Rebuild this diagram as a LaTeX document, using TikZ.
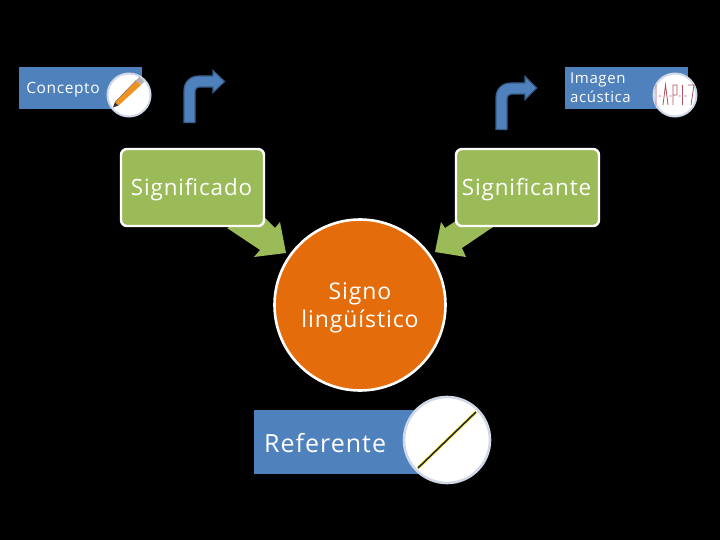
\documentclass[tikz,border=0pt]{standalone}
\usepackage{fontspec}
\setmainfont{Open Sans}[LetterSpace=4]
\definecolor{bluebox}{HTML}{4F81BD}
\definecolor{bluedark}{HTML}{385D8A}
\definecolor{greenbox}{HTML}{9BBB59}
\definecolor{orangec}{HTML}{E46C0A}
\definecolor{ringc}{HTML}{D0D8E8}
\definecolor{wavec}{HTML}{B0505F}
\definecolor{pencilc}{HTML}{EE9322}
\tikzset{
  lab/.style={text=white,inner sep=0pt,align=center},
  labelbox/.style={fill=bluebox,draw=none},
  ringcircle/.style={circle,fill=white,draw=ringc,inner sep=0pt},
  greenrect/.style={fill=greenbox,draw=white,line width=2.4pt,rounded corners=6pt},
  greenarrow/.style={fill=greenbox,draw=none},
  bentarrow/.style={fill=bluebox,draw=bluedark,line width=1.2pt,line join=miter}
}
\begin{document}
\begin{tikzpicture}[x=1pt,y=-1pt]
\path[use as bounding box,fill=black] (0,0) rectangle (720,540);
% label boxes
\fill[labelbox] (19,67) rectangle (142,109);
\fill[labelbox] (565,67) rectangle (688,109);
\fill[labelbox] (254,410) rectangle (430,474);
% bent arrows
\draw[bentarrow] (184,122.5) -- (184,91) .. controls (184,82) and (190,76) .. (199,76) -- (213,76) -- (213,70.5) -- (224.5,81.5) -- (213,92.5) -- (213,87) -- (199,87) .. controls (197,87) and (195,89) .. (195,91) -- (195,122.5) -- cycle;
\draw[bentarrow] (496,129.5) -- (496,98) .. controls (496,89) and (502,83) .. (511,83) -- (525,83) -- (525,76.5) -- (536.5,88) -- (525,99.5) -- (525,94) -- (511,94) .. controls (509,94) and (507,96) .. (507,98) -- (507,129.5) -- cycle;
% green connectors
\fill[greenarrow] (227,228) -- (262,215) -- (275,228) -- (280,222) -- (286,253) -- (254,257) -- (260,250) -- cycle;
\fill[greenarrow] (493,227) -- (462,248) -- (466,257) -- (435,252) -- (441,222) -- (445,228) -- (465,215) -- cycle;
% main nodes
\draw[greenrect] (121,149) rectangle (264,226);
\node[lab,font=\fontsize{22.4}{24}\selectfont] (sdo) at (191.5,189.5) {Significado};
\draw[greenrect] (456,149) rectangle (599,226);
\node[lab,font=\fontsize{22.4}{24}\selectfont] (ste) at (526.5,189.5) {Significante};
\node[circle,fill=orangec,draw=white,line width=2.6pt,minimum size=171pt,inner sep=0pt] (signo) at (360,305) {};
\node[lab,font=\fontsize{23}{28}\selectfont] (signot) at (360,307.5) {Signo\\lingüístico};
% text labels
\node[lab,font=\fontsize{15.5}{18}\selectfont] (con) at (63,90) {Concepto};
\node[lab,anchor=west,font=\fontsize{15}{19}\selectfont,align=left] (img) at (570,88) {Imagen\\acústica};
\node[lab,anchor=west,font=\fontsize{25}{28}\selectfont] (ref) at (264,443) {Referente};
% circles
\node[ringcircle,line width=2pt,minimum size=43pt] (c1) at (129,95) {};
\node[ringcircle,line width=2pt,minimum size=43pt] (c2) at (675,95) {};
\node[ringcircle,line width=2.6pt,minimum size=86pt] (c3) at (447,440) {};
% pencil
\fill[black!80] (113,107.5) -- (115,102) -- (118.5,105.5) -- cycle;
\fill[pencilc] (115,102) -- (136,80.5) -- (141,85) -- (118.5,105.5) -- cycle;
\fill[gray!60] (136,80.5) -- (139.5,77) -- (144.5,81.5) -- (141,85) -- cycle;
\draw[black!55,line width=0.4pt] (115,102) -- (136,80.5);
% waveform
\draw[wavec,line width=0.8pt] (656,85) -- (656,105) (658.5,96) -- (661,96) (663,105) -- (665.5,85) -- (668,105) (669.5,96) -- (671.5,96) (673,105) -- (673,85) -- (677,85) -- (677,95) -- (673,95) (678.5,96) -- (680.5,96) (682.5,85) -- (682.5,105) (684.5,96) -- (686.5,96) (688,85) -- (694,85) -- (691,105);
% ruler line
\draw[yellow!70!white,line width=3.2pt] (418,468) -- (476,412);
\draw[black!85,line width=1.6pt] (418,468) -- (476,412);
\end{tikzpicture}
\end{document}
